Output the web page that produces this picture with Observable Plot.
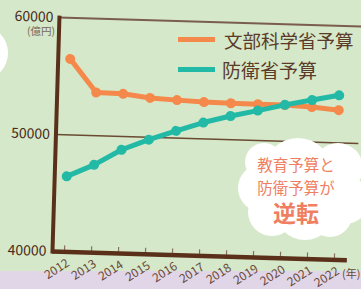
<!DOCTYPE html>
<html><head><meta charset="utf-8">
<script src="https://cdn.jsdelivr.net/npm/d3@7"></script>
<script src="https://cdn.jsdelivr.net/npm/@observablehq/plot@0.6"></script>
<style>
html,body{margin:0;padding:0;}
body{width:361px;height:289px;overflow:hidden;background:#d5e8c9;position:relative;font-family:"Noto Sans CJK JP","Noto Sans",sans-serif;}
#band{position:absolute;left:0;top:271px;width:361px;height:18px;background:#e0d6e7;}
#blob{position:absolute;left:-48px;top:25px;width:56px;height:56px;border-radius:50%;background:#fff;}
#chart{position:absolute;left:0;top:0;transform:rotate(1.7deg);transform-origin:52px 251px;}
#cloud{position:absolute;left:0;top:0;}
.ct{position:absolute;left:236px;width:120px;text-align:center;color:#f07f62;white-space:nowrap;}
.leg{position:absolute;color:#5b3b28;white-space:nowrap;}
.sw{position:absolute;left:178px;width:37px;height:5px;}
.unit{position:absolute;color:#7a6656;white-space:nowrap;}
</style></head>
<body>
<div id="band"></div>
<div id="blob"></div>
<div id="chart"></div>
<svg id="cloud" width="361" height="289"></svg>
<div class="ct" style="top:154px;font-size:15.5px;line-height:20px;">教育予算と</div>
<div class="ct" style="top:177px;font-size:15.5px;line-height:20px;">防衛予算が</div>
<div class="ct" style="top:198px;font-size:23px;line-height:28px;font-weight:bold;">逆転</div>
<div class="sw" style="top:37px;background:#f5894b;"></div>
<div class="sw" style="top:67px;background:#22b9a6;"></div>
<div class="leg" style="left:224px;top:27px;font-size:18.5px;line-height:26px;">文部科学省予算</div>
<div class="leg" style="left:222px;top:57px;font-size:19px;line-height:26px;">防衛省予算</div>
<div class="unit" style="left:27px;top:24px;font-size:10.5px;line-height:14px;">(億円)</div>
<div class="unit" style="left:342px;top:266px;font-size:11px;line-height:14px;color:#6b4838;">(年)</div>
<script>
const years = [2012, 2013, 2014, 2015, 2016, 2017, 2018, 2019, 2020, 2021, 2022];
const mextBudget = [56500, 53700, 53650, 53370, 53250, 53150, 53120, 53110, 53100, 53000, 52800];
const defenseBudget = [46460, 47510, 48870, 49800, 50620, 51400, 52030, 52560, 53120, 53600, 54070];
const yTicks = [40000, 50000, 60000];

const mext = years.map((y, i) => ({year: y, value: mextBudget[i]}));
const defense = years.map((y, i) => ({year: y, value: defenseBudget[i]}));

const orange = "#f5894b", teal = "#22b9a6", brown = "#5a301a";
const font = '"Noto Sans CJK JP","Noto Sans",sans-serif';

const chart = Plot.plot({
  width: 361, height: 289,
  marginLeft: 52, marginRight: 0, marginTop: 17, marginBottom: 38,
  style: {background: "transparent", fontFamily: font, overflow: "visible"},
  x: {domain: [2012, 2022], range: [64, 334], axis: null},
  y: {domain: [40000, 60000], axis: null},
  marks: [
    Plot.ruleY([60000], {stroke: "#7a5d4d", strokeWidth: 2}),
    Plot.ruleY([50000], {stroke: "#6a4a33", strokeWidth: 1.5, insetRight: 6}),
    Plot.ruleX(years, {x: d => d, y1: 40000, y2: 40000, insetTop: -6, stroke: "#8a7060", strokeWidth: 1.2}),
    Plot.ruleY([40000], {stroke: brown, strokeWidth: 4.5, insetRight: 14}),
    Plot.frame({anchor: "left", stroke: brown, strokeWidth: 4}),
    Plot.axisY({ticks: yTicks, label: null, tickSize: 0, tickPadding: 6, tickFormat: d => String(d), fontSize: 14, fill: "#4a2a18"}),
    Plot.text(years, {x: d => d, y: 40000, text: d => String(d), rotate: -34, textAnchor: "end", dx: 4, dy: 10, fontSize: 12, fill: "#6b4838"}),
    Plot.line(mext, {x: "year", y: "value", stroke: orange, strokeWidth: 5}),
    Plot.dot(mext, {x: "year", y: "value", fill: orange, r: 5}),
    Plot.line(defense, {x: "year", y: "value", stroke: teal, strokeWidth: 5}),
    Plot.dot(defense, {x: "year", y: "value", fill: teal, r: 5})
  ]
});
document.getElementById("chart").appendChild(chart);

// decorative cloud
const cloudCircles = [[298,172,34],[338,168,25],[345,200,24],[262,188,24],[264,162,19],[272,212,24],[305,210,30],[330,215,22]];
d3.select("#cloud").selectAll("circle").data(cloudCircles).join("circle")
  .attr("cx", d => d[0]).attr("cy", d => d[1]).attr("r", d => d[2]).attr("fill", "#fff");
</script>
</body></html>
